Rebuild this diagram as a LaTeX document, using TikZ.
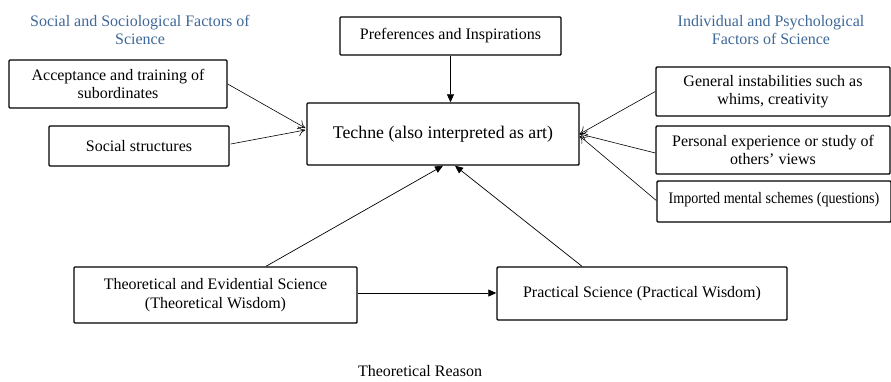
\documentclass[tikz,border=0pt]{standalone}
\usepackage{fontspec}
\setmainfont{Liberation Serif}
\usetikzlibrary{calc,arrows.meta}
\definecolor{titleblue}{RGB}{62,104,152}
\begin{document}
\begin{tikzpicture}[x=1pt,y=-1pt,
  box/.style={draw, line width=1.4pt, rounded corners=1pt, align=center, inner sep=2pt, font=\fontsize{16}{18.5}\selectfont},
  title/.style={align=center, text=titleblue, font=\fontsize{16}{18.5}\selectfont},
  openarr/.style={-{To[length=7pt,width=10pt]}, line width=0.6pt},
  fillarr/.style={-{Triangle[length=8pt,width=7pt]}, line width=0.7pt}]
\useasboundingbox (0,0) rectangle (891,381);
\node[title] (ttl) at (140,30) {Social and Sociological Factors of\\Science};
\node[title] (ttr) at (771,30) {Individual and Psychological\\Factors of Science};
\node[box, minimum width=221pt, minimum height=38pt] (pref) at (450.5,36) {Preferences and Inspirations};
\node[box, minimum width=218pt, minimum height=48pt] (acc) at (118,84) {Acceptance and training of\\subordinates};
\node[box, minimum width=180pt, minimum height=40pt] (soc) at (139,146) {Social structures};
\node[box, minimum width=272pt, minimum height=62pt, font=\fontsize{17.8}{20}\selectfont] (techne) at (443,134) {Techne (also interpreted as art)};
\node[box, minimum width=234pt, minimum height=49pt] (gen) at (773,91.5) {General instabilities such as\\whims, creativity};
\node[box, minimum width=234pt, minimum height=48pt] (pers) at (773,150) {Personal experience or study of\\others' views};
\node[box, minimum width=234pt, minimum height=41pt] (imp) at (774,201.5) {\raisebox{7pt}{\scalebox{0.88}[1]{Imported mental schemes (questions)}}};
\node[box, minimum width=283pt, minimum height=56pt] (theo) at (215.5,295) {Theoretical and Evidential Science\\(Theoretical Wisdom)};
\node[box, minimum width=290pt, minimum height=53pt] (prac) at (642,293.5) {Practical Science (Practical Wisdom)};
\node[font=\fontsize{16}{18}\selectfont] (reason) at (420,371) {Theoretical Reason};
\draw[fillarr] (pref.south) -- (pref.south |- techne.north);
\draw[openarr] (acc.east) -- ($(techne.west)+(-1,-6)$);
\draw[openarr] ($(soc.east)+(1,-2)$) -- ($(techne.west)+(-1,-4)$);
\draw[openarr] (gen.west) -- (techne.east);
\draw[openarr] ($(pers.west)+(0,3)$) -- (techne.east);
\draw[openarr] ($(imp.west)+(0,-1)$) -- ($(techne.east)+(0,2)$);
\draw[fillarr] ($(theo.north)+(50.5,0)$) -- (techne.south);
\draw[fillarr] ($(prac.north)+(-60,0)$) -- ($(techne.south)+(12,0)$);
\coordinate (tp) at ($(theo.east)+(0,-2)$);
\draw[fillarr] (tp) -- (tp -| prac.west);
\end{tikzpicture}
\end{document}
